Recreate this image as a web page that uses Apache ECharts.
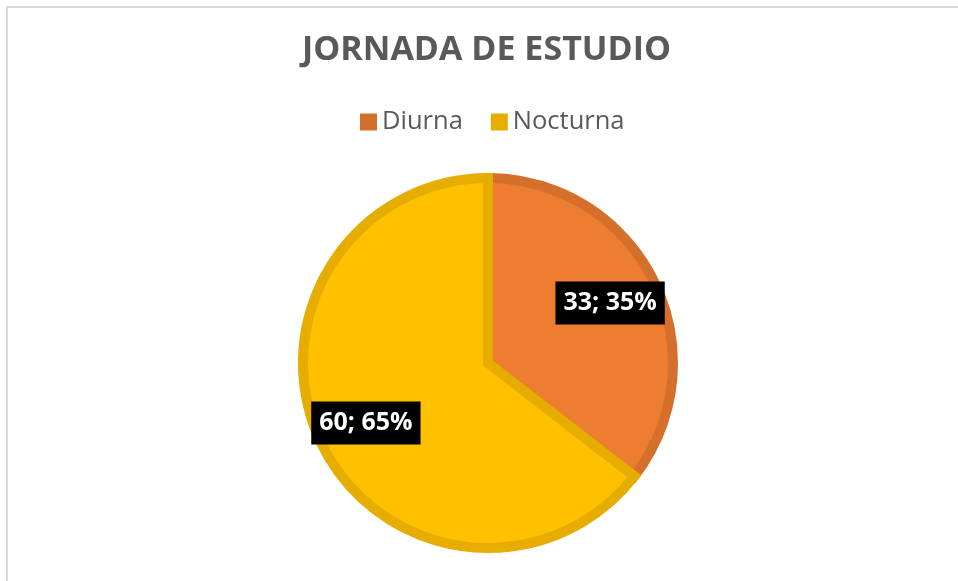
<!DOCTYPE html>
<html>
<head>
<meta charset="utf-8">
<script src="https://cdn.jsdelivr.net/npm/echarts@6/dist/echarts.min.js"></script>
<style>
  html, body { margin: 0; padding: 0; background: #fff; }
  #frame { position: absolute; left: 6px; top: 6px; width: 960px; height: 580px;
           border-left: 2px solid #d9d9d9; border-top: 2px solid #d9d9d9; }
  #main { position: absolute; left: 0; top: 0; width: 958px; height: 581px; }
</style>
</head>
<body>
<div id="frame"></div>
<div id="main"></div>
<script>
var categories = ['Diurna', 'Nocturna'];
var values = [33, 60];
var percents = ['35%', '65%'];
var fillColors = ['#ED7D31', '#FFC000'];
var edgeColors = ['#D5702C', '#E6AD00'];

var myChart = echarts.init(document.getElementById('main'));

var pieData = categories.map(function (name, i) {
  return {
    name: name,
    value: values[i],
    itemStyle: { color: fillColors[i], borderColor: edgeColors[i] }
  };
});

var labelData = categories.map(function (name, i) {
  return { name: name, value: values[i] };
});

var legendData = categories.map(function (name, i) {
  return { name: name, itemStyle: { color: edgeColors[i], borderWidth: 0 } };
});

var option = {
  animation: false,
  title: {
    text: 'JORNADA DE ESTUDIO',
    left: 302,
    top: 33,
    padding: 0,
    textStyle: {
      fontFamily: 'Open Sans',
      fontWeight: 'bold',
      fontSize: 34,
      color: '#595959'
    }
  },
  legend: {
    data: legendData,
    top: 109,
    left: 360,
    padding: 0,
    itemWidth: 17,
    itemHeight: 17,
    itemGap: 28,
    icon: 'rect',
    textStyle: { fontFamily: 'Open Sans', fontSize: 25.5, color: '#595959' }
  },
  series: [{
    name: 'Jornada',
    type: 'pie',
    center: [488, 363],
    radius: [0, 185],
    startAngle: 90,
    clockwise: true,
    label: { show: false },
    labelLine: { show: false },
    itemStyle: { borderWidth: 10, borderJoin: 'miter' },
    emphasis: { disabled: true },
    data: pieData
  }, {
    name: 'Etiquetas',
    type: 'pie',
    center: [488, 363],
    radius: [76, 190],
    startAngle: 90,
    clockwise: true,
    silent: true,
    itemStyle: { color: 'transparent' },
    labelLine: { show: false },
    label: {
      show: true,
      position: 'inside',
      formatter: function (p) {
        return p.value + '; ' + percents[p.dataIndex];
      },
      fontFamily: 'Open Sans',
      fontSize: 25,
      fontWeight: 'bold',
      color: '#fff',
      backgroundColor: '#000',
      padding: [10, 8, 8, 8]
    },
    data: labelData
  }]
};

myChart.setOption(option);
</script>
</body>
</html>
